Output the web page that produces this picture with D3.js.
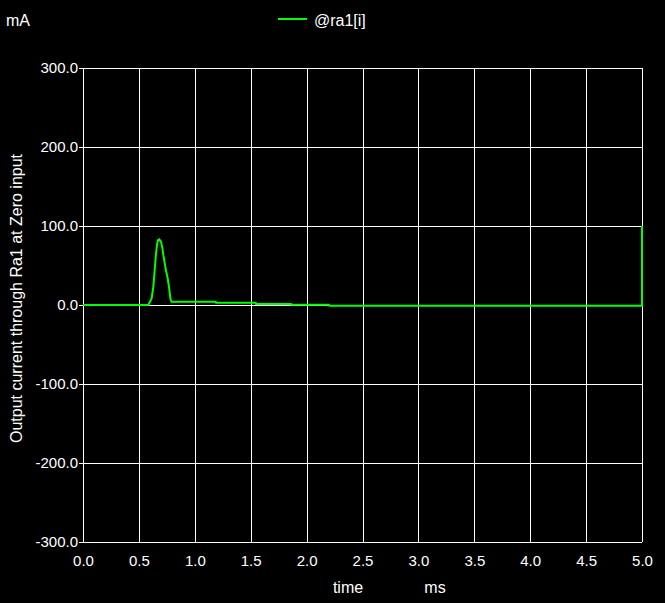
<!DOCTYPE html>
<html>
<head>
<meta charset="utf-8">
<script src="https://cdn.jsdelivr.net/npm/d3@7"></script>
<style>
html,body{margin:0;padding:0;background:#000;}
svg{display:block;}
text{font-family:"Liberation Sans",Arial,sans-serif;fill:#fff;}
</style>
</head>
<body>
<svg id="chart" width="665" height="603"></svg>
<script>
// Data (time in ms, current in mA)
const seriesName = "@ra1[i]";
const timeMs = [0.0, 0.584, 0.614, 0.629, 0.641, 0.653, 0.662, 0.671, 0.683, 0.698, 0.710, 0.719, 0.731, 0.742, 0.757, 0.769, 0.778, 0.784, 0.793, 1.187, 1.190, 1.545, 1.548, 1.86, 1.863, 2.20, 2.203, 5.0, 5.0];
const currentMa = [0.0, 0.0, 8.4, 23, 44, 65, 76, 82, 83, 80, 72, 63, 53, 44, 34, 23, 12.7, 6.3, 4.2, 4.2, 2.9, 2.9, 1.3, 1.3, 0.4, 0.4, -1.0, -1.0, 100];
const xTicks = [0.0, 0.5, 1.0, 1.5, 2.0, 2.5, 3.0, 3.5, 4.0, 4.5, 5.0];
const yTicks = [-300, -200, -100, 0, 100, 200, 300];

(function () {
const svg = d3.select("#chart");
const pl = 83, pr = 642, pt = 68, pb = 542;

const x = d3.scaleLinear().domain([0, 5]).range([pl, pr]);
const y = d3.scaleLinear().domain([-300, 300]).range([pb, pt]);
const fmt = d => d.toFixed(1);

// grid
const g = svg.append("g");
g.selectAll(".vg").data(xTicks).enter().append("line")
  .attr("x1", d => Math.round(x(d)) + 0.5).attr("x2", d => Math.round(x(d)) + 0.5)
  .attr("y1", pt).attr("y2", pb)
  .attr("stroke", "#fff").attr("stroke-width", 1);
g.selectAll(".hg").data(yTicks).enter().append("line")
  .attr("x1", pl - 4).attr("x2", pr)
  .attr("y1", d => Math.round(y(d)) + 0.5).attr("y2", d => Math.round(y(d)) + 0.5)
  .attr("stroke", "#fff").attr("stroke-width", 1);

// axes labels
const xAxis = d3.axisBottom(x).tickValues(xTicks).tickFormat(fmt).tickSize(0).tickPadding(13);
const xg = svg.append("g").attr("transform", `translate(0,${pb})`).call(xAxis);
xg.select(".domain").remove();
xg.selectAll("text").attr("font-size", 15).attr("fill", "#fff").attr("font-family", "Liberation Sans, Arial, sans-serif");

const yAxis = d3.axisLeft(y).tickValues(yTicks).tickFormat(fmt).tickSize(0).tickPadding(5);
const yg = svg.append("g").attr("transform", `translate(${pl},0)`).call(yAxis);
yg.select(".domain").remove();
yg.selectAll("text").attr("font-size", 15).attr("fill", "#fff").attr("font-family", "Liberation Sans, Arial, sans-serif");

// line
const line = d3.line().x((d, i) => x(timeMs[i])).y((d, i) => y(currentMa[i]));
svg.append("path").datum(currentMa)
  .attr("d", line).attr("fill", "none")
  .attr("stroke", "#00ff00").attr("stroke-width", 2);

// legend
svg.append("line").attr("x1", 278).attr("x2", 307).attr("y1", 19).attr("y2", 19)
  .attr("stroke", "#00ff00").attr("stroke-width", 2);
svg.append("text").attr("x", 314).attr("y", 25.5).attr("font-size", 16).text(seriesName);

// unit labels
svg.append("text").attr("x", 6).attr("y", 26).attr("font-size", 16).text("mA");
svg.append("text").attr("x", 348).attr("y", 592.5).attr("font-size", 16).attr("text-anchor", "middle").text("time");
svg.append("text").attr("x", 435).attr("y", 592.5).attr("font-size", 16).attr("text-anchor", "middle").text("ms");

// y title
svg.append("text").attr("transform", "translate(22,298.5) rotate(-90)")
  .attr("font-size", 16).attr("text-anchor", "middle")
  .text("Output current through Ra1 at Zero input");
})();
</script>
</body>
</html>
